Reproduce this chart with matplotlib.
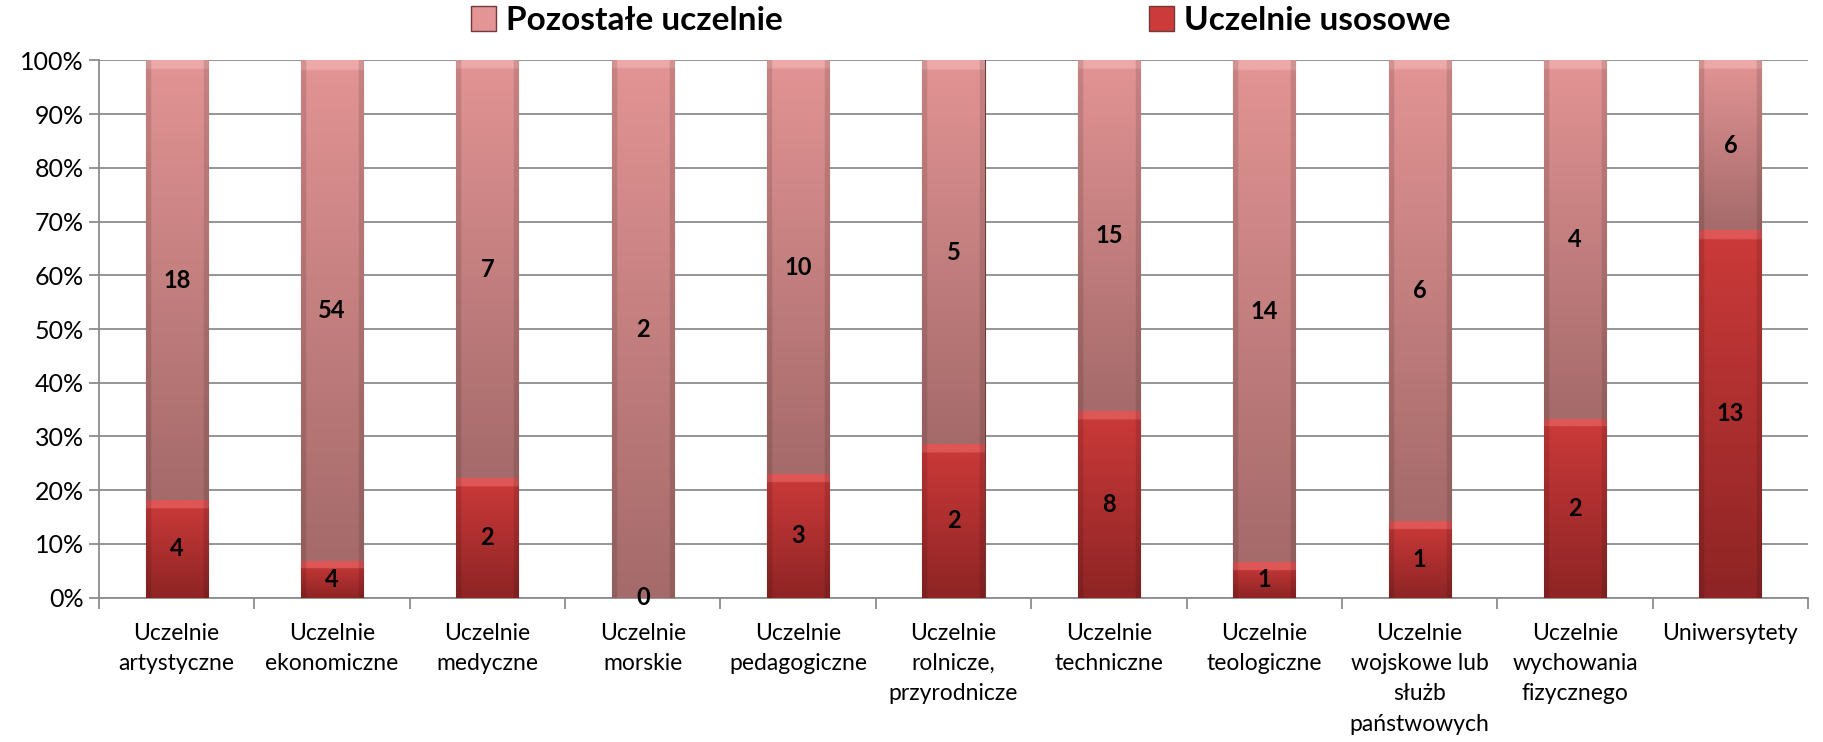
import numpy as np
import matplotlib.pyplot as plt
from matplotlib.colors import to_rgb
from matplotlib.patches import Patch

plt.rcParams["font.family"] = ["Lato", "DejaVu Sans"]

categories = [
    "Uczelnie\nartystyczne", "Uczelnie\nekonomiczne", "Uczelnie\nmedyczne",
    "Uczelnie\nmorskie", "Uczelnie\npedagogiczne", "Uczelnie\nrolnicze,\nprzyrodnicze",
    "Uczelnie\ntechniczne", "Uczelnie\nteologiczne",
    "Uczelnie\nwojskowe lub\nsłużb\npaństwowych", "Uczelnie\nwychowania\nfizycznego",
    "Uniwersytety",
]
usos = [4, 4, 2, 0, 3, 2, 8, 1, 1, 2, 13]
other = [18, 54, 7, 2, 10, 5, 15, 14, 6, 4, 6]
series_names = ["Pozostałe uczelnie", "Uczelnie usosowe"]

total = np.array(usos) + np.array(other)
usos_pct = np.array(usos) / total * 100
other_pct = np.array(other) / total * 100

# colours: (bevel, top, bottom)
RED = ("#DE5656", "#CC3A3A", "#8E2424")
PINK = ("#EDA8A8", "#E39494", "#A56A6A")
GRID = "#8C8C8C"

fig = plt.figure(figsize=(18.23, 7.42), dpi=100)
ax = fig.add_axes([0.0543, 0.1946, 0.9375, 0.7239])
x = np.arange(len(categories))
W = 0.4

b_usos = ax.bar(x, usos_pct, width=W, color=RED[1], edgecolor="#6E3A3A", linewidth=0.8, zorder=3)
b_other = ax.bar(x, other_pct, bottom=usos_pct, width=W, color=PINK[1], edgecolor="#6E3A3A",
                 linewidth=0.8, zorder=3)

ax.set_xlim(-0.5, len(categories) - 0.5)
ax.set_ylim(0, 100)
ax_h_px = 0.7239 * 742


def shade(bars, cols):
    bev, top, bot = [np.array(to_rgb(c)) for c in cols]
    for p in bars:
        x0, y0, w, h = p.get_x(), p.get_y(), p.get_width(), p.get_height()
        if h <= 0:
            continue
        h_px = h / 100 * ax_h_px
        n = 200
        t = np.linspace(0, 1, n)  # 0 bottom, 1 top
        col = bot[None, :] * (1 - t[:, None]) + top[None, :] * t[:, None]
        band = min(8 / h_px, 0.4)
        col[t > 1 - band] = bev
        img = np.repeat(col[:, None, :], 60, axis=1)
        # darker sides
        s = np.linspace(0, 1, 60)
        side = np.where((s < 0.07) | (s > 0.93), 0.88, 1.0)
        img = img * side[None, :, None]
        im = ax.imshow(img, extent=(x0, x0 + w, y0, y0 + h), origin="lower",
                       aspect="auto", zorder=3.5, interpolation="bilinear")
        im.set_clip_path(p)


shade(b_usos, RED)
shade(b_other, PINK)
ax.set_xlim(-0.5, len(categories) - 0.5)
ax.set_ylim(0, 100)

ax.bar_label(b_usos, labels=[str(v) for v in usos], label_type="center",
             fontsize=17, fontweight="bold", zorder=5)
ax.bar_label(b_other, labels=[str(v) for v in other], label_type="center",
             fontsize=17, fontweight="bold", zorder=5)
for t in ax.texts:
    t.set_zorder(6)

ax.set_yticks(np.arange(0, 101, 10))
ax.set_yticklabels([f"{v}%" for v in range(0, 101, 10)], fontsize=18)
ax.yaxis.grid(True, color=GRID, linewidth=1.3, zorder=0)
ax.set_axisbelow(True)

ax.set_xticks(x)
ax.set_xticklabels(categories, fontsize=16.5, linespacing=1.55)
ax.set_xticks(np.arange(-0.5, len(categories), 1), minor=True)
ax.tick_params(axis="x", which="major", length=0, pad=18)
ax.tick_params(axis="x", which="minor", length=8, color=GRID, width=1.3)
ax.tick_params(axis="y", length=7, color=GRID, width=1.3, pad=4)

for s in ["top", "right"]:
    ax.spines[s].set_visible(False)
for s in ["left", "bottom"]:
    ax.spines[s].set_color(GRID)
    ax.spines[s].set_linewidth(1.3)

handles = [Patch(facecolor=PINK[1], edgecolor="#6E3A3A"), Patch(facecolor=RED[1], edgecolor="#6E3A3A")]
fig.legend(handles, series_names, loc="center", bbox_to_anchor=(0.527, 0.972), ncol=2,
           frameon=False, prop={"size": 24, "weight": "bold"}, handlelength=0.75,
           handleheight=0.75, handletextpad=0.3, columnspacing=11)

fig.savefig("out.png", dpi=100)
